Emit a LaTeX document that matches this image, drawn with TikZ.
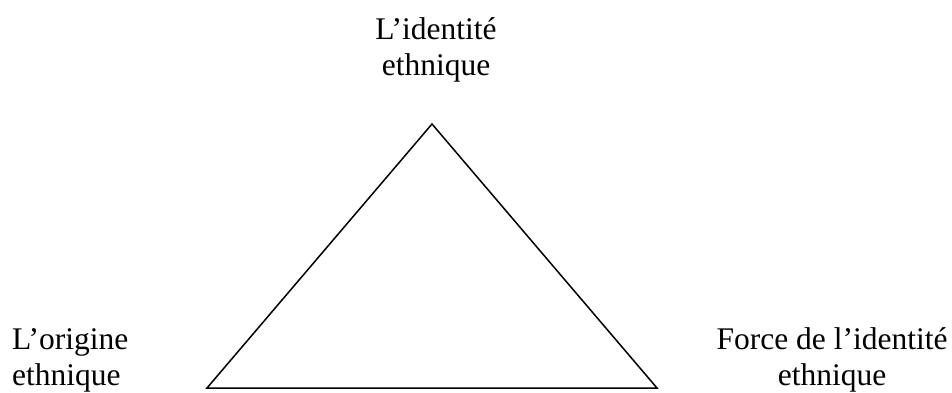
\documentclass[tikz,border=0pt]{standalone}
\usepackage{fontspec}
\setmainfont{Liberation Serif}
\begin{document}
\begin{tikzpicture}[x=1pt,y=-1pt,
  lbl/.style={inner sep=0pt,font=\fontsize{31.5}{36}\selectfont},
  edge/.style={draw=black,line width=1.5pt,line join=miter}]
\useasboundingbox (0,0) rectangle (952,392);
\coordinate (A) at (432,124);
\coordinate (B) at (207,388);
\coordinate (C) at (657,388);
\draw[edge] (A) -- (B) -- (C) -- cycle;
\node[lbl,align=center,anchor=base] (top) at (436,75) {L’identité\\ethnique};
\node[lbl,align=left,anchor=base west] (left) at (12,385) {L’origine\\ethnique};
\node[lbl,align=center,anchor=base] (right) at (832,385) {Force de l’identité\\ethnique};
\end{tikzpicture}
\end{document}
